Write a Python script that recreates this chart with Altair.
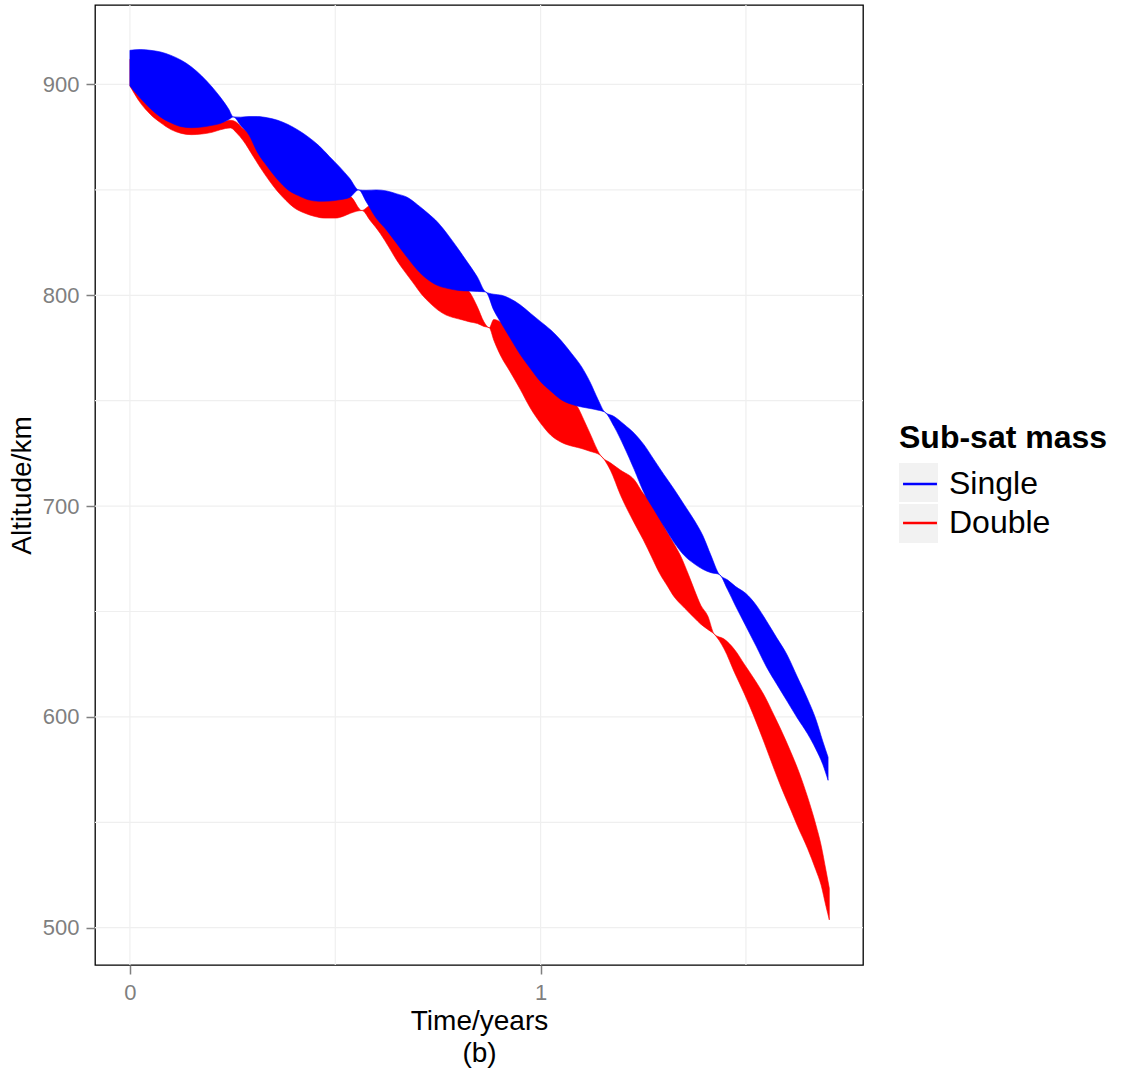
import altair as alt
import pandas as pd

# ---- data ----
series_names = ["Single", "Double"]
series_colors = ["#0000FF", "#FF0000"]

t_single = [0.000, 0.025, 0.050, 0.075, 0.100, 0.125, 0.150, 0.175, 0.200, 0.220,
            0.240, 0.252, 0.270, 0.290, 0.310, 0.335, 0.360, 0.385, 0.410, 0.435,
            0.460, 0.485, 0.510, 0.535, 0.557, 0.575, 0.600, 0.625, 0.650, 0.675,
            0.700, 0.725, 0.750, 0.775, 0.800, 0.825, 0.846, 0.866, 0.886, 0.905,
            0.925, 0.950, 0.975, 1.000, 1.025, 1.050, 1.075, 1.100, 1.120, 1.140,
            1.156, 1.179, 1.203, 1.228, 1.252, 1.276, 1.300, 1.325, 1.350, 1.375,
            1.395, 1.415, 1.435, 1.455, 1.475, 1.500, 1.525, 1.550, 1.575, 1.600,
            1.625, 1.650, 1.670, 1.687, 1.700]
upper_single = [916.2, 916.6, 916.2, 915.4, 913.8, 911.5, 908.3, 904.0, 898.8, 894.0,
                888.5, 884.6, 884.5, 884.8, 884.8, 884.2, 883.0, 881.0, 878.3, 875.0,
                871.0, 866.0, 861.0, 855.5, 850.0, 849.8, 850.0, 849.5, 848.1, 846.5,
                843.0, 839.0, 834.5, 828.5, 821.8, 814.8, 808.7, 801.6, 800.5, 800.0,
                798.5, 795.5, 791.5, 787.5, 783.5, 778.5, 772.5, 766.0, 759.0, 750.5,
                744.6, 742.5, 738.8, 734.5, 729.0, 722.0, 715.0, 708.0, 700.5, 693.0,
                686.0, 676.5, 667.6, 665.0, 661.8, 658.5, 653.0, 645.5, 637.5, 629.5,
                619.0, 608.5, 599.0, 588.5, 580.9]
lower_single = [899.3, 893.6, 888.5, 884.5, 881.8, 880.0, 879.5, 879.8, 880.6, 881.5,
                883.3, 884.6, 880.5, 876.0, 868.0, 861.0, 854.8, 850.0, 847.3, 845.3,
                844.6, 844.7, 845.3, 846.4, 850.0, 844.5, 836.5, 830.9, 824.5, 818.0,
                812.0, 807.5, 804.6, 803.2, 802.3, 802.0, 801.8, 801.6, 792.9, 786.5,
                780.0, 772.0, 765.3, 759.0, 754.5, 750.5, 748.3, 747.0, 746.3, 745.5,
                744.6, 737.7, 728.3, 717.3, 706.2, 698.3, 690.5, 682.7, 676.5, 672.5,
                670.0, 668.4, 667.6, 660.5, 652.5, 643.0, 633.5, 623.7, 615.5, 607.5,
                599.5, 592.0, 584.8, 577.5, 569.9]

t_double = [0.000, 0.025, 0.050, 0.075, 0.100, 0.125, 0.150, 0.175, 0.200, 0.220,
            0.245, 0.260, 0.276, 0.300, 0.317, 0.340, 0.358, 0.380, 0.400, 0.425,
            0.450, 0.475, 0.500, 0.520, 0.537, 0.565, 0.585, 0.610, 0.630, 0.650,
            0.670, 0.690, 0.710, 0.730, 0.750, 0.770, 0.790, 0.810, 0.825, 0.846,
            0.862, 0.875, 0.886, 0.905, 0.925, 0.950, 0.975, 1.000, 1.025, 1.050,
            1.075, 1.090, 1.105, 1.120, 1.146, 1.170, 1.195, 1.228, 1.250, 1.270,
            1.290, 1.309, 1.325, 1.341, 1.360, 1.374, 1.390, 1.407, 1.423, 1.447,
            1.472, 1.496, 1.520, 1.545, 1.569, 1.585, 1.610, 1.626, 1.650, 1.670,
            1.683, 1.695, 1.703]
upper_double = [912.0, 911.0, 908.0, 903.0, 897.0, 891.0, 887.0, 884.5, 882.5, 882.0,
                883.0, 882.0, 879.0, 876.0, 874.0, 871.0, 868.5, 865.0, 862.0, 858.5,
                855.0, 851.5, 849.0, 847.5, 846.8, 840.2, 842.5, 842.0, 839.5, 836.0,
                832.0, 828.0, 823.5, 819.0, 815.0, 811.0, 807.5, 804.0, 802.0, 794.5,
                787.4, 784.6, 788.5, 787.0, 783.0, 777.0, 771.0, 765.0, 760.0, 754.0,
                750.0, 747.0, 741.0, 734.6, 724.0, 720.5, 717.0, 712.5, 706.0, 702.0,
                694.5, 687.3, 682.0, 676.3, 667.5, 660.5, 653.0, 647.9, 639.2, 636.9,
                632.0, 625.0, 618.0, 610.0, 600.5, 594.0, 583.0, 575.4, 562.0, 549.0,
                539.1, 527.0, 518.7]
lower_double = [899.3, 891.4, 885.8, 881.8, 878.6, 876.8, 876.2, 876.5, 877.3, 878.5,
                879.4, 877.0, 873.3, 866.0, 860.7, 854.2, 849.6, 845.0, 841.5, 839.0,
                837.4, 836.6, 836.6, 837.5, 838.9, 840.2, 835.5, 829.2, 823.0, 816.5,
                811.0, 805.8, 800.5, 796.4, 793.0, 790.6, 789.3, 788.3, 787.5, 786.6,
                785.2, 784.6, 778.7, 770.5, 764.0, 755.5, 746.5, 739.3, 733.6, 730.3,
                728.5, 727.8, 727.0, 726.0, 724.0, 717.0, 705.0, 692.0, 684.0, 676.0,
                668.0, 662.0, 657.0, 653.5, 649.8, 647.0, 644.0, 641.5, 639.2, 632.2,
                621.1, 611.0, 600.0, 587.5, 575.0, 567.0, 555.5, 548.0, 537.6, 527.5,
                520.2, 510.0, 503.7]

x_ticks = [0, 1]
x_grid = [0, 0.5, 1, 1.5]
y_ticks = [500, 600, 700, 800, 900]
y_grid = [500, 550, 600, 650, 700, 750, 800, 850, 900]

# ---- build tables ----
df = pd.concat([
    pd.DataFrame({"t": t_single, "upper": upper_single, "lower": lower_single,
                  "series": "Single"}),
    pd.DataFrame({"t": t_double, "upper": upper_double, "lower": lower_double,
                  "series": "Double"}),
], ignore_index=True)
key_names = [s + " " for s in series_names]
df["key"] = df["series"] + " "
gx = pd.DataFrame({"t": x_grid})
gy = pd.DataFrame({"upper": y_grid})

FONT = "Liberation Sans"
GRID = "#EFEFEF"
AX = "#7F7F7F"
KEY_BG = "#F2F2F2"
LEGEND_TITLE = "Sub-sat mass"

xs = alt.Scale(domain=[-0.085, 1.785], nice=False, zero=False)
ys = alt.Scale(domain=[482.3, 937.7], nice=False, zero=False)
cs = alt.Scale(domain=series_names, range=series_colors)

x_axis = alt.Axis(values=x_ticks, title=["Time/years", "(b)"], grid=False, domain=False,
                  labelFontSize=22, labelColor=AX, tickColor=AX, tickSize=9, tickWidth=1.5,
                  labelPadding=8, titleFontSize=28, titleFontWeight="normal",
                  titleColor="black", titlePadding=4, titleLineHeight=32, format="d")
y_axis = alt.Axis(values=y_ticks, title="Altitude/km", grid=False, domain=False,
                  labelFontSize=22, labelColor=AX, tickColor=AX, tickSize=9, tickWidth=1.5,
                  labelPadding=7, titleFontSize=28, titleFontWeight="normal",
                  titleColor="black", titlePadding=6, format="d")

common_legend = dict(titleFontSize=32, titleFontWeight="bold", labelFontSize=32,
                     titleLimit=400, labelLimit=400, orient="none", legendX=804,
                     legendY=418, rowPadding=2, labelOffset=8, titlePadding=8,
                     symbolSize=1521)

line_legend = alt.Legend(title=LEGEND_TITLE, titleColor="black", labelColor="black",
                         symbolType="M-0.87,0H0.87", symbolStrokeWidth=2.5,
                         zindex=2, **common_legend)
key_legend = alt.Legend(title=" ", titleColor="transparent", labelExpr="''",
                        labelColor="transparent", symbolType="square",
                        symbolFillColor=KEY_BG, symbolStrokeWidth=0,
                        symbolStrokeColor="transparent", symbolOpacity=1,
                        zindex=1, **common_legend)

grid_v = alt.Chart(gx).mark_rule(color=GRID, strokeWidth=1.2).encode(
    x=alt.X("t:Q", scale=xs, axis=x_axis))
grid_h = alt.Chart(gy).mark_rule(color=GRID, strokeWidth=1.2).encode(
    y=alt.Y("upper:Q", scale=ys, axis=y_axis))

base = alt.Chart(df).mark_area(strokeWidth=0.6, opacity=1, interpolate="monotone").encode(
    x=alt.X("t:Q", scale=xs, axis=x_axis),
    y=alt.Y("upper:Q", scale=ys, axis=y_axis),
    y2="lower:Q",
    fill=alt.Fill("series:N", scale=cs, legend=line_legend),
    stroke=alt.Stroke("series:N", scale=cs, legend=line_legend),
)
red = base.transform_filter(alt.datum.series == "Double")
blue = base.transform_filter(alt.datum.series == "Single")

# layer with no visible points: it only provides the grey legend key backgrounds
keys = alt.Chart(df).mark_square(size=0, color=KEY_BG, filled=True).encode(
    x=alt.X("t:Q", scale=xs, axis=x_axis),
    y=alt.Y("upper:Q", scale=ys, axis=y_axis),
    opacity=alt.Opacity("key:N", scale=alt.Scale(domain=key_names, range=[1, 1]),
                        legend=key_legend),
).transform_filter(alt.datum.t < -1)

chart = alt.layer(grid_v, grid_h, red, blue, keys).properties(
    width=768, height=960,
    autosize=alt.AutoSizeParams(type="none"),
    padding={"left": 95, "top": 5, "right": 265, "bottom": 111},
).configure(font=FONT).configure_view(stroke="black", strokeWidth=1.3)

chart.save("out.html", embed_options={"renderer": "svg", "actions": False})
